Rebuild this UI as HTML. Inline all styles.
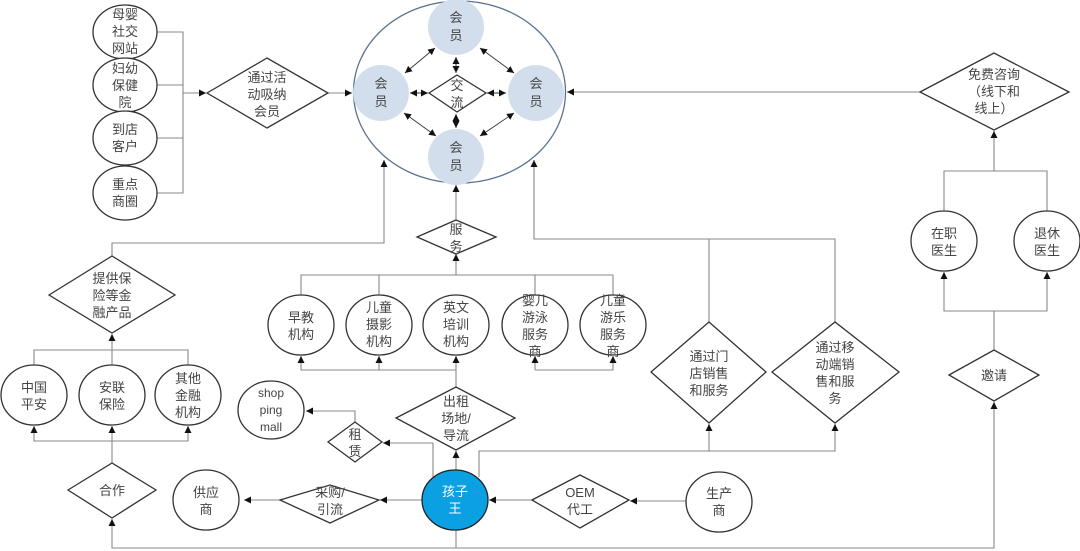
<!DOCTYPE html>
<html><head><meta charset="utf-8"><style>
html,body{margin:0;padding:0;background:#fff;}
svg{display:block;}
text{font-family:"Liberation Sans","Noto Sans CJK SC",sans-serif;font-size:13px;fill:#444;text-anchor:middle;}
.s{fill:#fff;stroke:#333;stroke-width:1.3;}
.l{fill:none;stroke:#888;stroke-width:1.1;}
.m{fill:#d3deec;stroke:none;}
</style></head><body>
<svg width="1080" height="551" viewBox="0 0 1080 551">
<defs>
<marker id="a" markerWidth="8" markerHeight="8" refX="7" refY="4" orient="auto" markerUnits="userSpaceOnUse"><path d="M0,0.5 L7,4 L0,7.5 z" fill="#111"/></marker>
<marker id="b" markerWidth="8" markerHeight="8" refX="1" refY="4" orient="auto" markerUnits="userSpaceOnUse"><path d="M8,0.5 L1,4 L8,7.5 z" fill="#111"/></marker>
</defs>

<!-- left source circles -->
<g class="l">
<path d="M157,32 H183 V193 H157 M157,85 H183 M157,138 H183"/>
<path d="M183,93 H206" marker-end="url(#a)"/>
<path d="M328,93 H352" marker-end="url(#a)"/>
</g>
<ellipse class="s" cx="125" cy="32" rx="32" ry="27"/>
<ellipse class="s" cx="125" cy="85" rx="32" ry="27"/>
<ellipse class="s" cx="125" cy="138" rx="32" ry="27"/>
<ellipse class="s" cx="125" cy="193" rx="32" ry="27"/>
<text x="125" y="19">母婴</text><text x="125" y="36">社交</text><text x="125" y="53">网站</text>
<text x="125" y="73">妇幼</text><text x="125" y="90">保健</text><text x="125" y="107">院</text>
<text x="125" y="134">到店</text><text x="125" y="151">客户</text>
<text x="125" y="189">重点</text><text x="125" y="206">商圈</text>
<polygon class="s" points="207,93 267,58 328,93 267,128"/>
<text x="267" y="82">通过活</text><text x="267" y="99">动吸纳</text><text x="267" y="116">会员</text>

<!-- big circle -->
<ellipse cx="459.5" cy="92" rx="106" ry="91" fill="#fff" stroke="#5a7391" stroke-width="1.3"/>
<circle class="m" cx="456" cy="27" r="28"/>
<circle class="m" cx="381" cy="93" r="28"/>
<circle class="m" cx="536" cy="93" r="28"/>
<circle class="m" cx="456" cy="157" r="28"/>
<text x="456" y="22">会</text><text x="456" y="40">员</text>
<text x="381" y="88">会</text><text x="381" y="106">员</text>
<text x="536" y="88">会</text><text x="536" y="106">员</text>
<text x="456" y="152">会</text><text x="456" y="170">员</text>
<polygon class="s" points="429,93 457,75 486,93 457,112"/>
<text x="457" y="90">交</text><text x="457" y="107">流</text>
<g stroke="#333" stroke-width="0.9" fill="none">
<path d="M435,48 L405,73" marker-start="url(#b)" marker-end="url(#a)"/>
<path d="M480,48 L514,73" marker-start="url(#b)" marker-end="url(#a)"/>
<path d="M404,113 L436,136" marker-start="url(#b)" marker-end="url(#a)"/>
<path d="M514,113 L480,136" marker-start="url(#b)" marker-end="url(#a)"/>
<path d="M456,57 L456,73" marker-start="url(#b)" marker-end="url(#a)"/>
<path d="M456,114 L456,128" marker-start="url(#b)" marker-end="url(#a)"/>
<path d="M410,93 L428,93" marker-start="url(#b)" marker-end="url(#a)"/>
<path d="M487,93 L506,93" marker-start="url(#b)" marker-end="url(#a)"/>
</g>

<!-- connectors -->
<g class="l">
<path d="M456,220 V185" marker-end="url(#a)"/>
<path d="M456,275 V254" marker-end="url(#a)"/>
<path d="M112,256 V243 H384 V160" marker-end="url(#a)"/>
<path d="M709,322 V239 H835 V322 M709,239 H534 V160" marker-end="url(#a)"/>
<path d="M301,295 V275 H613 V295 M379,275 V295 M535,275 V295"/>
<path d="M456,387 V370 H301 V356" marker-end="url(#a)"/>
<path d="M379,370 V356" marker-end="url(#a)"/>
<path d="M456,370 V356" marker-end="url(#a)"/>
<path d="M535,370 V356" marker-end="url(#a)"/>
<path d="M535,370 H613 V356" marker-end="url(#a)"/>
<path d="M456,470 V451" marker-end="url(#a)"/>
<path d="M433,478 V443 H383" marker-end="url(#a)"/>
<path d="M355,422 V411 H306" marker-end="url(#a)"/>
<path d="M479,477 V451 H835 V424" marker-end="url(#a)"/>
<path d="M709,451 V424" marker-end="url(#a)"/>
<path d="M422,500 H380" marker-end="url(#a)"/>
<path d="M280,500 H244" marker-end="url(#a)"/>
<path d="M532,500 H489" marker-end="url(#a)"/>
<path d="M686,501 H630" marker-end="url(#a)"/>
<path d="M456,530 V548 H112 V519" marker-end="url(#a)"/>
<path d="M456,548 H994 V402" marker-end="url(#a)"/>
<path d="M112,463 V441 H34 V426" marker-end="url(#a)"/>
<path d="M112,441 V426" marker-end="url(#a)"/>
<path d="M112,441 H188 V426" marker-end="url(#a)"/>
<path d="M34,365 V350 H188 V365 M112,365 V334" marker-end="url(#a)"/>
<path d="M920,92 H567" marker-end="url(#a)"/>
<path d="M944,211 V171 H1047 V211 M994,171 V131" marker-end="url(#a)"/>
<path d="M994,350 V311 H944 V272" marker-end="url(#a)"/>
<path d="M994,311 H1047 V272" marker-end="url(#a)"/>
</g>

<!-- service -->
<polygon class="s" points="417,237 456,220 496,237 456,254"/>
<text x="456" y="234">服</text><text x="456" y="251">务</text>
<ellipse class="s" cx="301" cy="325" rx="33" ry="30"/>
<ellipse class="s" cx="379" cy="325" rx="33" ry="30"/>
<ellipse class="s" cx="456" cy="325" rx="33" ry="30"/>
<ellipse class="s" cx="535" cy="325" rx="33" ry="30"/>
<ellipse class="s" cx="613" cy="325" rx="33" ry="30"/>
<text x="301" y="322">早教</text><text x="301" y="339">机构</text>
<text x="379" y="312">儿童</text><text x="379" y="329">摄影</text><text x="379" y="346">机构</text>
<text x="456" y="312">英文</text><text x="456" y="329">培训</text><text x="456" y="346">机构</text>
<text x="535" y="305">婴儿</text><text x="535" y="322">游泳</text><text x="535" y="339">服务</text><text x="535" y="356">商</text>
<text x="613" y="305">儿童</text><text x="613" y="322">游乐</text><text x="613" y="339">服务</text><text x="613" y="356">商</text>

<polygon class="s" points="396,418 456,387 515,418 456,450"/>
<text x="456" y="406">出租</text><text x="456" y="423">场地/</text><text x="456" y="440">导流</text>
<polygon class="s" points="328,442 355,422 382,442 355,462"/>
<text x="355" y="439">租</text><text x="355" y="456">赁</text>
<ellipse class="s" cx="271" cy="410" rx="33" ry="29"/>
<text x="271" y="397" style="font-size:12px">shop</text><text x="271" y="414" style="font-size:12px">ping</text><text x="271" y="431" style="font-size:12px">mall</text>

<ellipse cx="455" cy="500" rx="33" ry="30" fill="#0aa0e2" stroke="#222" stroke-width="1.3"/>
<text x="455" y="496" style="fill:#fff">孩子</text><text x="455" y="513" style="fill:#fff">王</text>

<polygon class="s" points="280,500 330,485 379,500 330,523"/>
<text x="330" y="497">采购/</text><text x="330" y="514">引流</text>
<ellipse class="s" cx="206" cy="500" rx="33" ry="30"/>
<text x="206" y="497">供应</text><text x="206" y="514">商</text>
<polygon class="s" points="532,500 580,475 629,500 580,528"/>
<text x="580" y="497">OEM</text><text x="580" y="514">代工</text>
<ellipse class="s" cx="719" cy="502" rx="33" ry="30"/>
<text x="719" y="498">生产</text><text x="719" y="515">商</text>

<polygon class="s" points="651,372 709,322 766,372 709,423"/>
<text x="709" y="361">通过门</text><text x="709" y="378">店销售</text><text x="709" y="395">和服务</text>
<polygon class="s" points="772,372 835,322 899,372 835,423"/>
<text x="835" y="352">通过移</text><text x="835" y="369">动端销</text><text x="835" y="386">售和服</text><text x="835" y="403">务</text>

<!-- finance -->
<polygon class="s" points="49,295 112,256 175,295 112,333"/>
<text x="112" y="283">提供保</text><text x="112" y="300">险等金</text><text x="112" y="317">融产品</text>
<ellipse class="s" cx="34" cy="395" rx="33" ry="30"/>
<ellipse class="s" cx="112" cy="395" rx="33" ry="30"/>
<ellipse class="s" cx="188" cy="395" rx="33" ry="30"/>
<text x="34" y="392">中国</text><text x="34" y="409">平安</text>
<text x="112" y="392">安联</text><text x="112" y="409">保险</text>
<text x="188" y="383">其他</text><text x="188" y="400">金融</text><text x="188" y="417">机构</text>
<polygon class="s" points="68,490 112,463 156,490 112,518"/>
<text x="112" y="495">合作</text>

<!-- doctors -->
<polygon class="s" points="920,92 994,53 1069,92 994,130"/>
<text x="994" y="79">免费咨询</text><text x="994" y="96">（线下和</text><text x="994" y="113">线上）</text>
<ellipse class="s" cx="944" cy="241" rx="33" ry="30"/>
<ellipse class="s" cx="1047" cy="241" rx="33" ry="30"/>
<text x="944" y="238">在职</text><text x="944" y="255">医生</text>
<text x="1047" y="238">退休</text><text x="1047" y="255">医生</text>
<polygon class="s" points="949,375 994,350 1039,375 994,401"/>
<text x="994" y="380">邀请</text>
</svg>
</body></html>
